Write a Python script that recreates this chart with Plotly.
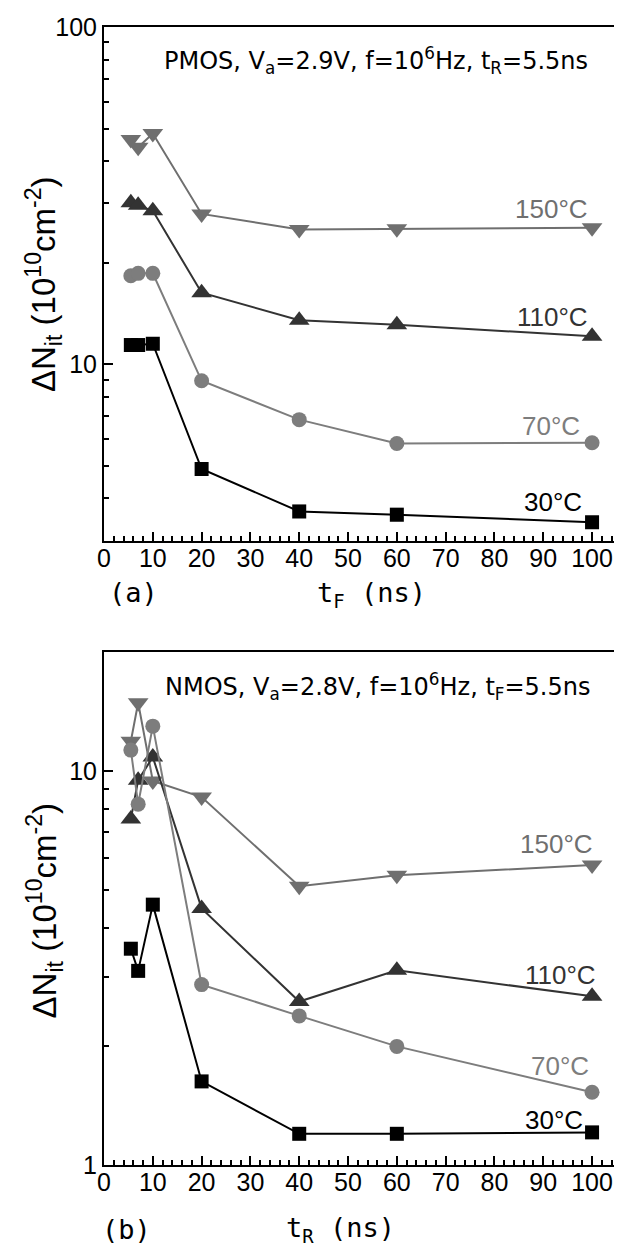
import plotly.graph_objects as go

# ---------------- data ----------------
x_vals = [5.5, 7, 10, 20, 40, 60, 100]

temps = ["150°C", "110°C", "70°C", "30°C"]

# (a) PMOS, vs t_F
pmos_150 = [46.4, 44.0, 48.3, 27.9, 25.1, 25.2, 25.4]
pmos_110 = [30.1, 29.6, 28.5, 16.3, 13.5, 13.1, 12.1]
pmos_70 = [18.3, 18.6, 18.6, 8.93, 6.85, 5.82, 5.85]
pmos_30 = [11.4, 11.4, 11.5, 4.89, 3.66, 3.58, 3.40]

# (b) NMOS, vs t_R
nmos_150 = [11.9, 14.9, 9.44, 8.59, 5.10, 5.44, 5.77]
nmos_110 = [7.55, 9.48, 10.85, 4.48, 2.60, 3.12, 2.68]
nmos_70 = [11.3, 8.24, 13.0, 2.87, 2.39, 2.00, 1.53]
nmos_30 = [3.54, 3.11, 4.58, 1.63, 1.20, 1.20, 1.21]

# ---------------- styling ----------------
OFF = 8  # page body margin
PAGE_W, PAGE_H = 622, 1252
W, H = PAGE_W - OFF, PAGE_H - OFF
# plot-area bounds in page pixels
PL, PR, PT, PB = 104, 617, 26, 1165
top_bottom_px = 540
bot_top_px = 652

L, R, T, B = PL - OFF, PR - OFF, PT - OFF, PB - OFF

def px_x(px):
    return (px - OFF - L) / (R - L)

def px_y(py):
    return (B - (py - OFF)) / (B - T)

styles = {
    "150°C": dict(symbol="triangle-down", color="#6f6f6f", size=18),
    "110°C": dict(symbol="triangle-up", color="#333333", size=18),
    "70°C": dict(symbol="circle", color="#7d7d7d", size=15),
    "30°C": dict(symbol="square", color="#000000", size=14),
}

fig = go.Figure()

panels = [
    ("x", "y", [pmos_150, pmos_110, pmos_70, pmos_30]),
    ("x2", "y2", [nmos_150, nmos_110, nmos_70, nmos_30]),
]
for xa, ya, series in panels:
    for name, yv in zip(temps, series):
        st = styles[name]
        fig.add_trace(go.Scatter(
            x=x_vals, y=yv, mode="lines+markers", name=name,
            xaxis=xa, yaxis=ya, showlegend=False,
            line=dict(color=st["color"], width=2),
            marker=dict(symbol=st["symbol"], color=st["color"], size=st["size"],
                        line=dict(width=0)),
        ))

tickfont = dict(family="Liberation Sans, Arial, sans-serif", size=25, color="black")

xaxis_common = dict(
    range=[0, 104.7], dtick=10, tick0=0, ticks="inside", ticklen=9, tickwidth=1.5,
    tickcolor="black", showline=True, linewidth=2, linecolor="black", mirror=True,
    showgrid=False, zeroline=False, tickfont=tickfont, ticklabelstandoff=-6,
    minor=dict(dtick=2, ticks="inside", ticklen=5, tickwidth=1.5, tickcolor="black", showgrid=False),
)
yaxis_common = dict(
    type="log", dtick=1, ticks="inside", ticklen=9, tickwidth=1.5, tickcolor="black",
    showline=True, linewidth=2, linecolor="black", mirror=True,
    showgrid=False, zeroline=False, tickfont=tickfont,
    minor=dict(dtick="D1", ticks="inside", ticklen=5, tickwidth=1.5, tickcolor="black", showgrid=False),
)

fig.update_layout(
    width=W, height=H,
    margin=dict(l=L, r=W - R, t=T, b=H - B, pad=0),
    plot_bgcolor="white", paper_bgcolor="white",
    xaxis=dict(domain=[0, 1], anchor="y", **xaxis_common),
    yaxis=dict(domain=[px_y(top_bottom_px), 1], anchor="x", range=[0.4771, 2], **yaxis_common),
    xaxis2=dict(domain=[0, 1], anchor="y2", **xaxis_common),
    yaxis2=dict(domain=[0, px_y(bot_top_px)], anchor="x2", range=[0, 1.3010], **yaxis_common),
)

ann_font = dict(family="DejaVu Sans, sans-serif", size=24, color="black")
lab_font = dict(family="Liberation Sans, Arial, sans-serif", size=26)
title_font = dict(family="DejaVu Sans Mono, monospace", size=27, color="black")
ytitle_font = dict(family="Liberation Sans, Arial, sans-serif", size=33, color="black")

anns = []
anns.append(dict(text="PMOS, V<sub>a</sub>=2.9V, f=10<sup>6</sup>Hz, t<sub>R</sub>=5.5ns",
                 x=px_x(592), y=px_y(60), xanchor="right", yanchor="middle", font=ann_font))
anns.append(dict(text="NMOS, V<sub>a</sub>=2.8V, f=10<sup>6</sup>Hz, t<sub>F</sub>=5.5ns",
                 x=px_x(594), y=px_y(686), xanchor="right", yanchor="middle", font=ann_font))

top_labels = [("150°C", 592, 208), ("110°C", 592, 316), ("70°C", 584, 425), ("30°C", 586, 501)]
bot_labels = [("150°C", 597, 844), ("110°C", 600, 975), ("70°C", 593, 1066), ("30°C", 587, 1120)]
for lbls in (top_labels, bot_labels):
    for name, px, py in lbls:
        anns.append(dict(text=name, x=px_x(px), y=px_y(py), xanchor="right", yanchor="middle",
                         font=dict(color=styles[name]["color"], **lab_font)))

# axis titles and panel letters
anns.append(dict(text="t<sub>F</sub> (ns)", x=px_x(373), y=px_y(594), xanchor="center",
                 yanchor="middle", font=title_font))
anns.append(dict(text="t<sub>R</sub> (ns)", x=px_x(341), y=px_y(1230), xanchor="center",
                 yanchor="middle", font=title_font))
anns.append(dict(text="(a)", x=px_x(134), y=px_y(592), xanchor="center", yanchor="middle",
                 font=title_font))
anns.append(dict(text="(b)", x=px_x(127), y=px_y(1230), xanchor="center", yanchor="middle",
                 font=title_font))
ytitle = "ΔN<sub>it</sub> (10<sup>10</sup>cm<sup>-2</sup>)"
anns.append(dict(text=ytitle, x=px_x(44), y=px_y(283), textangle=-90, xanchor="center",
                 yanchor="middle", font=ytitle_font))
anns.append(dict(text=ytitle, x=px_x(44), y=px_y(910), textangle=-90, xanchor="center",
                 yanchor="middle", font=ytitle_font))

for a in anns:
    a.update(xref="paper", yref="paper", showarrow=False)
fig.update_layout(annotations=anns)

fig.write_html("out.html")
